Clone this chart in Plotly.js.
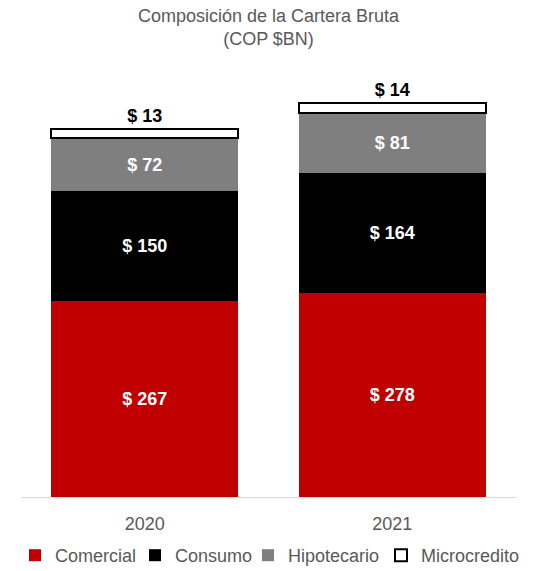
<!DOCTYPE html>
<html><head><meta charset="utf-8">
<script src="https://cdn.plot.ly/plotly-3.0.1.min.js"></script>
<style>html,body{margin:0;padding:0;background:#fff;}</style>
</head><body>
<div id="chart" style="width:537px;height:571px;"></div>
<script>
const years = ["2020", "2021"];
const comercial = [267, 278];
const consumo = [150, 164];
const hipotecario = [72, 81];
const microcredito = [13, 14];
const seriesNames = ["Comercial", "Consumo", "Hipotecario", "Microcredito"];

const FONT = "Arial, 'Liberation Sans', sans-serif";
const gray = "#595959";
const legendIds = ["legend", "legend2", "legend3", "legend4"];
const legendTextX = [55, 175, 288, 421];

function inside(i, y, color) {
  return {
    type: "bar", name: seriesNames[i], x: years, y: y, legend: legendIds[i],
    marker: {color: color, line: {width: 0}},
    text: y.map(v => "$ " + v), textposition: "inside", insidetextanchor: "middle",
    textfont: {family: FONT, size: 18, color: "#ffffff", weight: "bold"},
    hoverinfo: "skip"
  };
}
const traces = [
  inside(0, comercial, "#c00000"),
  inside(1, consumo, "#000000"),
  inside(2, hipotecario, "#7f7f7f"),
  {
    type: "bar", name: seriesNames[3], x: years, y: microcredito, legend: legendIds[3],
    marker: {color: "#ffffff", line: {width: 2, color: "#000000"}},
    text: microcredito.map(v => "$ " + v), textposition: "outside",
    textfont: {family: FONT, size: 18, color: "#000000", weight: "bold"},
    cliponaxis: false, hoverinfo: "skip"
  }
];

const layout = {
  width: 537, height: 571,
  margin: {l: 21, r: 21, t: 86, b: 74},
  paper_bgcolor: "#fff", plot_bgcolor: "#fff",
  barmode: "stack", bargap: 0.245,
  font: {family: FONT, color: gray},
  title: {text: "Composición de la Cartera Bruta<br>(COP $BN)", x: 0.5, xanchor: "center",
          yref: "container", y: 1 - 22/571, yanchor: "middle",
          font: {family: FONT, size: 18, color: gray}},
  xaxis: {showline: true, linecolor: "#d9d9d9", linewidth: 1, ticks: "", showgrid: false,
          ticklabelstandoff: 10,
          tickfont: {family: FONT, size: 18, color: gray}, fixedrange: true},
  yaxis: {range: [0, 560], visible: false, showgrid: false, zeroline: false, fixedrange: true},
  showlegend: true,
  uniformtext: {mode: false}
};
legendIds.forEach((id, i) => {
  layout[id] = {orientation: "h", xref: "container", x: (legendTextX[i] - 40) / 537, xanchor: "left",
                yref: "container", y: 34/571, yanchor: "top", bgcolor: "rgba(0,0,0,0)",
                font: {family: FONT, size: 18, color: gray}, itemwidth: 30};
});
Plotly.newPlot("chart", traces, layout, {displayModeBar: false, staticPlot: true});
</script>
</body></html>
